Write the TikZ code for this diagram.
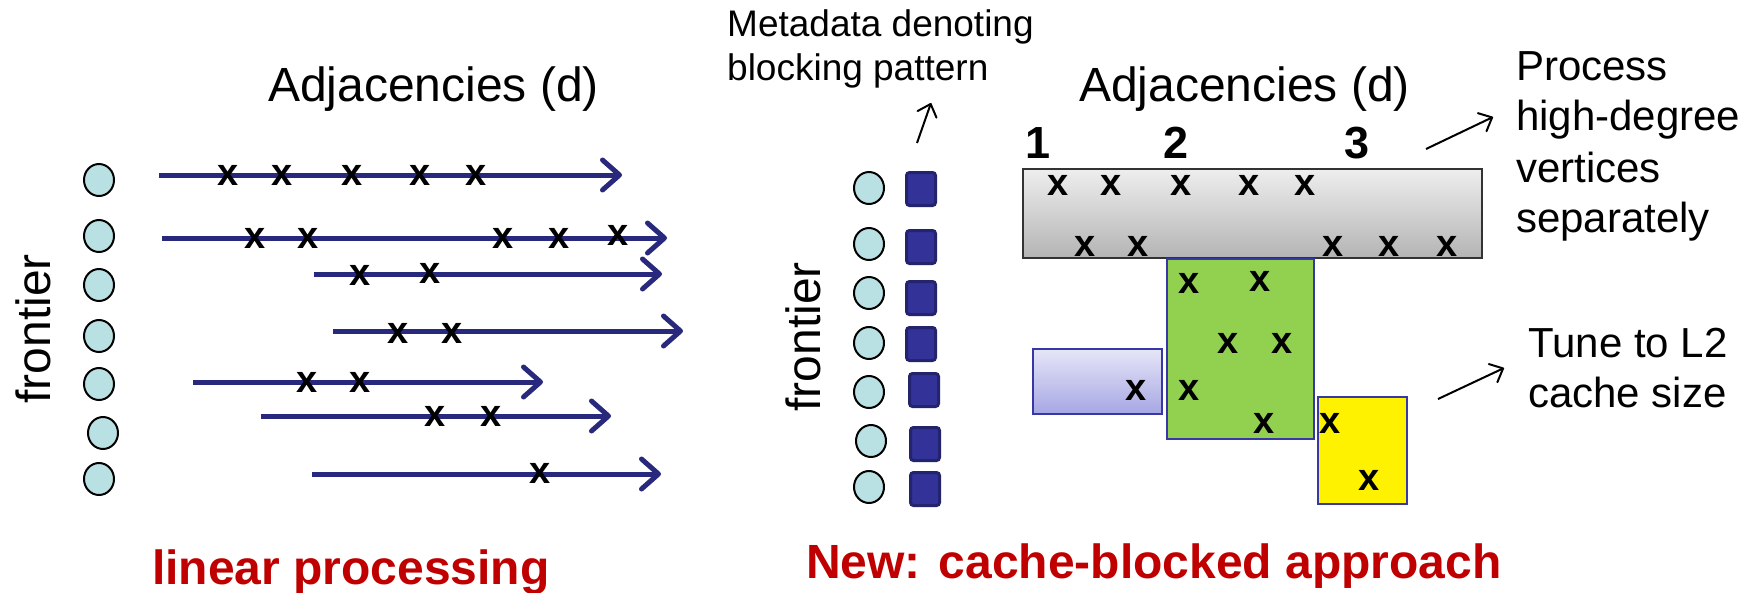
\documentclass[tikz,border=0pt]{standalone}
\usepackage{fontspec}
\setmainfont{Liberation Sans}
\usetikzlibrary{arrows.meta,shapes.geometric}
\definecolor{navy}{RGB}{40,40,125}
\definecolor{cyanfill}{RGB}{185,224,226}
\definecolor{sqfill}{RGB}{50,50,152}
\definecolor{sqedge}{RGB}{36,36,110}
\definecolor{darkred}{RGB}{192,0,0}
\definecolor{boxedge}{RGB}{55,55,165}
\definecolor{greenfill}{RGB}{146,208,80}
\definecolor{purptop}{RGB}{230,230,248}
\definecolor{purpbot}{RGB}{166,166,228}
\definecolor{greytop}{RGB}{238,238,238}
\definecolor{greybot}{RGB}{180,180,180}
\tikzset{
  vtx/.style={ellipse, draw=black, line width=2pt, fill=cyanfill, minimum width=30pt, minimum height=32pt, inner sep=0pt},
  metasq/.style={rectangle, rounded corners=3pt, draw=sqedge, line width=3pt, fill=sqfill, minimum width=29pt, minimum height=33pt, inner sep=0pt},
  adj/.style={navy, line width=5pt, -{Straight Barb[length=17pt,width=30pt,round]}},
  thinarrow/.style={black, line width=2pt, -{Straight Barb[length=11pt,width=20pt,round]}},
  xm/.style={font=\fontsize{38}{38}\selectfont\bfseries, inner sep=0pt},
  big/.style={font=\fontsize{48}{56}\selectfont, inner sep=0pt},
  note/.style={font=\fontsize{42}{50}\selectfont, inner sep=0pt, anchor=base west},
  small/.style={font=\fontsize{37}{44}\selectfont, inner sep=0pt, anchor=base west},
  digit/.style={font=\fontsize{45}{48}\selectfont\bfseries, inner sep=0pt, anchor=base},
  caption/.style={font=\fontsize{48}{56}\selectfont\bfseries, text=darkred, inner sep=0pt, anchor=base west},
  blockbox/.style={rectangle, anchor=north west, inner sep=0pt, line width=2pt, draw=boxedge}
}
\begin{document}
\begin{tikzpicture}[x=1pt,y=-1pt]
\useasboundingbox[fill=white] (0,0) rectangle (1748,592);

% ---------------- left panel ----------------
\node[big, anchor=base west] (adjL) at (268,101) {Adjacencies (d)};
\node[big, rotate=90, anchor=base] (frL) at (50,329) {frontier};

\foreach \py [count=\i] in {180,236,285,336,384,433,479} {
  \node[vtx] (vl\i) at ({\i==6 ? 103 : 99},\py) {};
}

\foreach \sx/\ex/\yy [count=\i] in {159/622/175, 162/667/238, 314/662/274, 333/683/331, 193/543/382, 261/611/416, 312/661/474} {
  \coordinate (ls\i) at (\sx,\yy);
  \coordinate (le\i) at (\ex,\yy);
  \draw[adj] (ls\i) -- (le\i);
}

\foreach \px/\py [count=\i] in {228/175, 282/175, 352/175, 420/175, 476/175,
  255/238, 308/238, 503/238, 559/238, 618/235,
  360/275, 430/273,
  398/333, 452/333,
  307/382, 360/382,
  435/416, 491/416,
  540/473} {
  \node[xm] (xl\i) at (\px,\py) {x};
}

\node[caption] (capL) at (152,584) {linear processing};

% ---------------- right panel ----------------
\node[small] (meta1) at (727,36) {Metadata denoting};
\node[small] (meta2) at (727,80) {blocking pattern};
\coordinate (ma) at (917,143);
\coordinate (mb) at (931,103);
\draw[thinarrow] (ma) -- (mb);

\node[big, anchor=base west] (adjR) at (1079,101) {Adjacencies (d)};
\node[big, rotate=90, anchor=base] (frR) at (820,337) {frontier};

\node[digit] (d1) at (1038,158) {1};
\node[digit] (d2) at (1176,158) {2};
\node[digit] (d3) at (1357,158) {3};

\foreach \py [count=\i] in {188,244,293,343,392,441,487} {
  \node[vtx] (vr\i) at ({\i==6 ? 871 : 869},\py) {};
}
\foreach \px/\py [count=\i] in {921/189, 921/247, 921/298, 921/344, 924/390, 925/444, 925/489} {
  \node[metasq] (m\i) at (\px,\py) {};
}

% blocks
\node[blockbox, draw=black!80, top color=greytop, bottom color=greybot, minimum width=459pt, minimum height=89pt] (grey) at (1022,168) {};
\node[blockbox, fill=greenfill, minimum width=147pt, minimum height=180pt] (green) at (1166,258) {};
\node[blockbox, top color=purptop, bottom color=purpbot, minimum width=129pt, minimum height=65pt] (purple) at (1032,348) {};
\node[blockbox, fill=yellow, minimum width=89pt, minimum height=107pt] (yel) at (1317,396) {};

\foreach \px/\py [count=\i] in {1058/185, 1111/185, 1181/185, 1249/185, 1305/185,
  1085/246, 1138/246, 1333/246, 1389/246, 1447/246,
  1189/283, 1260/281, 1228/343, 1282/343, 1189/390, 1264/423,
  1136/390,
  1330/423, 1369/480} {
  \node[xm] (xr\i) at (\px,\py) {x};
}

% notes
\node[note] (p1) at (1516,80) {Process};
\node[note] (p2) at (1516,130) {high-degree};
\node[note] (p3) at (1516,182) {vertices};
\node[note] (p4) at (1516,232) {separately};
\coordinate (pa) at (1426,149);
\coordinate (pb) at (1493,117);
\draw[thinarrow] (pa) -- (pb);

\node[note] (t1) at (1528,357) {Tune to L2};
\node[note] (t2) at (1528,407) {cache size};
\coordinate (ta) at (1438,399);
\coordinate (tb) at (1504,368);
\draw[thinarrow] (ta) -- (tb);

\node[caption] (capR) at (806,578) {New: cache-blocked approach};
\end{tikzpicture}
\end{document}
